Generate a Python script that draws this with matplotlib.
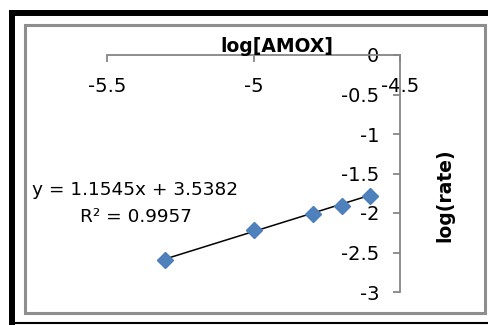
import matplotlib
matplotlib.use("Agg")
from matplotlib import pyplot as plt
from matplotlib.lines import Line2D
from matplotlib.patches import Rectangle
import numpy as np

plt.rcParams['font.family'] = ['DejaVu Sans']

# log of AMOX concentration vs log of initial rate
log_amox = [-5.301, -5.0, -4.796, -4.699, -4.602]
log_rate = [-2.595, -2.21, -2.013, -1.911, -1.785]
slope = 1.1545
intercept = 3.5382
r_squared = 0.9957
x_ticks = [-5.5, -5.0, -4.5]
y_ticks = [0, -0.5, -1, -1.5, -2, -2.5, -3]

W, H = 489, 325
fig = plt.figure(figsize=(W / 100, H / 100), dpi=100)

def fx(px):
    return px / W

def fy(py):
    return 1 - py / H

# outer black border and inner grey chart frame
fig.add_artist(Line2D([fx(12), fx(12)], [fy(13), fy(325)], color='black', lw=4.3,
                      solid_capstyle='butt'))
fig.add_artist(Line2D([fx(9), fx(489)], [fy(13), fy(13)], color='black', lw=4.3,
                      solid_capstyle='butt'))
fig.add_artist(Line2D([fx(12), fx(489)], [fy(323), fy(323)], color='black', lw=1.5))
fig.add_artist(Rectangle((fx(25), fy(312.5)), fx(484.5) - fx(25), fy(25) - fy(312.5),
                         fill=False, edgecolor='#8e8e8e', lw=2.2, transform=fig.transFigure))

ax = fig.add_axes([fx(107), fy(292), fx(400) - fx(107), fy(55) - fy(292)])
ax.set_xlim(-5.5, -4.5)
ax.set_ylim(-3, 0)
ax.patch.set_visible(False)

# axes cross at the top right corner
axis_col = '#868686'
ax.spines['left'].set_position(('data', -4.5))
ax.spines['bottom'].set_position(('data', 0))
ax.spines['top'].set_visible(False)
ax.spines['right'].set_visible(False)
for s in ('left', 'bottom'):
    ax.spines[s].set_color(axis_col)
    ax.spines[s].set_linewidth(1.3)

ax.set_xticks(x_ticks)
ax.set_xticklabels(['%g' % t for t in x_ticks])
ax.set_yticks(y_ticks)
ax.set_yticklabels(['%g' % t for t in y_ticks])
ax.tick_params(axis='x', direction='out', length=5, width=1.3, color=axis_col,
               labelsize=14, pad=11)
ax.tick_params(axis='y', direction='out', length=5, width=1.3, color=axis_col,
               labelsize=14, pad=10)

# trendline over the data range
xs = np.array([min(log_amox), max(log_amox)])
ax.plot(xs, slope * xs + intercept, color='black', lw=1.1, zorder=2)
ax.plot(log_amox, log_rate, 'D', color='#4F81BD', ms=8, mec='#4A7EBB', zorder=3)

fig.text(fx(277), fy(46), 'log[AMOX]', ha='center', va='center', fontsize=13.5, fontweight='bold')
fig.text(fx(445), fy(195), 'log(rate)', ha='center', va='center', rotation=90,
         fontsize=13.5, fontweight='bold')
fig.text(fx(135), fy(190), 'y = %.4fx + %.4f' % (slope, intercept), ha='center', va='center',
         fontsize=13.3)
fig.text(fx(136), fy(217), 'R² = %.4f' % r_squared, ha='center', va='center', fontsize=13.3)

fig.savefig('out.png', dpi=100)
